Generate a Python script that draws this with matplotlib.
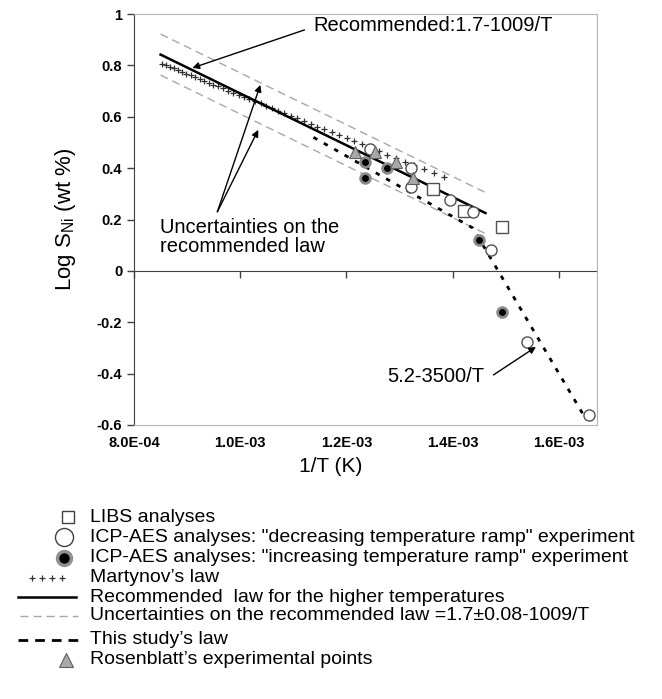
import matplotlib.pyplot as plt
from matplotlib.lines import Line2D
from matplotlib.ticker import FuncFormatter

plt.rcParams['font.family'] = ['Liberation Sans', 'DejaVu Sans']
plt.rcParams['mathtext.fontset'] = 'custom'
plt.rcParams['mathtext.rm'] = 'Liberation Sans'

# LIBS analyses (squares)
libs_x = [1.364e-3, 1.421e-3, 1.493e-3]
libs_y = [0.32, 0.233, 0.171]
# ICP-AES, decreasing temperature ramp (open circles)
dec_x = [1.245e-3, 1.321e-3, 1.321e-3, 1.396e-3, 1.438e-3, 1.472e-3, 1.540e-3, 1.657e-3]
dec_y = [0.475, 0.40, 0.327, 0.276, 0.23, 0.082, -0.276, -0.56]
# ICP-AES, increasing temperature ramp (filled circles)
inc_x = [1.236e-3, 1.236e-3, 1.277e-3, 1.449e-3, 1.494e-3]
inc_y = [0.424, 0.362, 0.40, 0.12, -0.16]
# Rosenblatt's experimental points (triangles)
ros_x = [1.217e-3, 1.253e-3, 1.293e-3, 1.326e-3]
ros_y = [0.463, 0.463, 0.424, 0.362]

# Martynov's law, one point every 10 K
mart_T = [1173, 1163, 1153, 1143, 1133, 1123, 1113, 1103, 1093, 1083, 1073, 1063,
          1053, 1043, 1033, 1023, 1013, 1003, 993, 983, 973, 963, 953, 943, 933,
          923, 913, 903, 893, 883, 873, 863, 853, 843, 833, 823, 813, 803, 793,
          783, 773, 763, 753, 743, 733, 723]
mart_y = [0.806, 0.800, 0.794, 0.788, 0.781, 0.775, 0.768, 0.761, 0.754, 0.747,
          0.740, 0.733, 0.725, 0.718, 0.710, 0.702, 0.694, 0.686, 0.678, 0.669,
          0.660, 0.652, 0.642, 0.633, 0.624, 0.614, 0.604, 0.594, 0.584, 0.573,
          0.562, 0.551, 0.540, 0.529, 0.517, 0.505, 0.492, 0.479, 0.466, 0.453,
          0.439, 0.425, 0.411, 0.396, 0.380, 0.365]
mart_x = [1.0 / t for t in mart_T]

# recommended law 1.7-1009/T and its +-0.08 band
rec_x = [8.5e-4, 1.462e-3]
rec_y = [0.842, 0.225]
unc_hi_y = [0.922, 0.305]
unc_lo_y = [0.762, 0.145]

# this study's law (two segments, steep part 5.2-3500/T)
study_x = [1.138e-3, 1.438e-3, 1.652e-3]
study_y = [0.52, 0.167, -0.58]

xticks = [8e-4, 1e-3, 1.2e-3, 1.4e-3, 1.6e-3]
yticks = [-0.6, -0.4, -0.2, 0, 0.2, 0.4, 0.6, 0.8, 1.0]

W, H = 662, 699
fig = plt.figure(figsize=(W / 100, H / 100), dpi=100)
ax = fig.add_axes([134 / W, 1 - 425 / H, (597 - 134) / W, (425 - 14) / H])

ax.plot(rec_x, unc_hi_y, color='#a8a8a8', lw=1, dashes=(5.8, 3.6))
ax.plot(rec_x, unc_lo_y, color='#a8a8a8', lw=1, dashes=(5.8, 3.6))
ax.plot(study_x, study_y, color='black', lw=2, dashes=(1.6, 2.7))
ax.plot(mart_x, mart_y, ls='none', marker='+', ms=5, mew=0.9, color='#303030')
ax.plot(rec_x, rec_y, color='black', lw=1.8)

ax.plot(libs_x, libs_y, ls='none', marker='s', ms=8, mfc='white', mec='#505050', mew=1)
ax.plot(dec_x, dec_y, ls='none', marker='o', ms=8, mfc='white', mec='#505050', mew=1)
ax.plot(inc_x, inc_y, ls='none', marker='o', ms=7, mfc='black', mec='#8a8a8a', mew=2)
ax.plot(ros_x, ros_y, ls='none', marker='^', ms=9, mfc='#a8a8a8', mec='#606060', mew=0.8)

ax.set_xlim(8e-4, 1.672e-3)
ax.set_ylim(-0.6, 1.0)
ax.set_xticks(xticks)
ax.set_yticks(yticks)
ax.xaxis.set_major_formatter(FuncFormatter(lambda v, p: '%.1E' % v))
ax.yaxis.set_major_formatter(FuncFormatter(lambda v, p: '%g' % round(v, 1)))
ax.tick_params(axis='x', length=0, pad=8, labelsize=10.5)
ax.tick_params(axis='y', length=5, width=1, color='#404040', direction='out', labelsize=10.5)
for lab in ax.get_xticklabels() + ax.get_yticklabels():
    lab.set_fontweight('bold')
for s in ['top', 'right', 'bottom']:
    ax.spines[s].set_color('#b4b4b4')
ax.spines['left'].set_color('#404040')

# x axis crossing at y = 0
zero_ax = ax.secondary_xaxis(0.6 / 1.6)
zero_ax.set_xticks(xticks)
zero_ax.tick_params(length=5, width=1, color='#404040', labelbottom=False, labeltop=False)
for s in zero_ax.spines.values():
    s.set_color('#404040')

ax.set_xlabel('1/T (K)', fontsize=15)
ax.xaxis.set_label_coords(0.425, -0.078)
ax.set_ylabel(r'Log S$_{\mathregular{Ni}}$ (wt %)', fontsize=16)
ax.yaxis.set_label_coords(-0.12, 0.5)

# annotations
arrow = dict(arrowstyle='-|>', color='black', lw=1, mutation_scale=10, shrinkA=0, shrinkB=0)
ax.annotate('', xy=(9.1e-4, 0.79), xytext=(1.121e-3, 0.938), arrowprops=arrow)
ax.text(1.138e-3, 0.955, 'Recommended:1.7-1009/T', fontsize=14.5, va='center')
ax.annotate('', xy=(1.038e-3, 0.724), xytext=(9.57e-4, 0.23), arrowprops=arrow)
ax.annotate('', xy=(1.034e-3, 0.549), xytext=(9.57e-4, 0.23), arrowprops=arrow)
ax.text(8.49e-4, 0.205, 'Uncertainties on the\nrecommended law', fontsize=14.5,
        va='top', linespacing=1.0)
ax.annotate('', xy=(1.557e-3, -0.296), xytext=(1.477e-3, -0.405), arrowprops=arrow)
ax.text(1.277e-3, -0.411, '5.2-3500/T', fontsize=14.5, va='center')

# legend below the chart
legend_rows = [517, 537, 558, 578, 597, 616, 640, 660]
legend_labels = ['LIBS analyses',
                 'ICP-AES analyses: "decreasing temperature ramp" experiment',
                 'ICP-AES analyses: "increasing temperature ramp" experiment',
                 'Martynov\u2019s law',
                 'Recommended  law for the higher temperatures',
                 'Uncertainties on the recommended law =1.7\u00b10.08-1009/T',
                 'This study\u2019s law',
                 'Rosenblatt\u2019s experimental points']
for py, lab in zip(legend_rows, legend_labels):
    fig.text(90 / W, 1 - py / H, lab, fontsize=14, va='center')

def handle(xs, py, **kw):
    fx = [x / W for x in xs]
    fy = [1 - py / H] * len(xs)
    fig.add_artist(Line2D(fx, fy, transform=fig.transFigure, **kw))

r = legend_rows
handle([68], r[0], ls='none', marker='s', ms=9, mfc='white', mec='#404040', mew=1)
handle([64], r[1], ls='none', marker='o', ms=13, mfc='white', mec='#404040', mew=1)
handle([64], r[2], ls='none', marker='o', ms=10, mfc='black', mec='#909090', mew=2.5)
handle([32, 42, 52, 62], r[3], ls='none', marker='+', ms=5, mew=0.9, color='#303030')
handle([18, 76], r[4], color='black', lw=1.8)
handle([20, 78], r[5], color='#a8a8a8', lw=1, dashes=(5.8, 3.6))
handle([18, 78], r[6], color='black', lw=2, dashes=(3.5, 2.5))
handle([66], r[7], ls='none', marker='^', ms=10, mfc='#a8a8a8', mec='#606060', mew=0.8)

fig.savefig('out.png', dpi=100)
